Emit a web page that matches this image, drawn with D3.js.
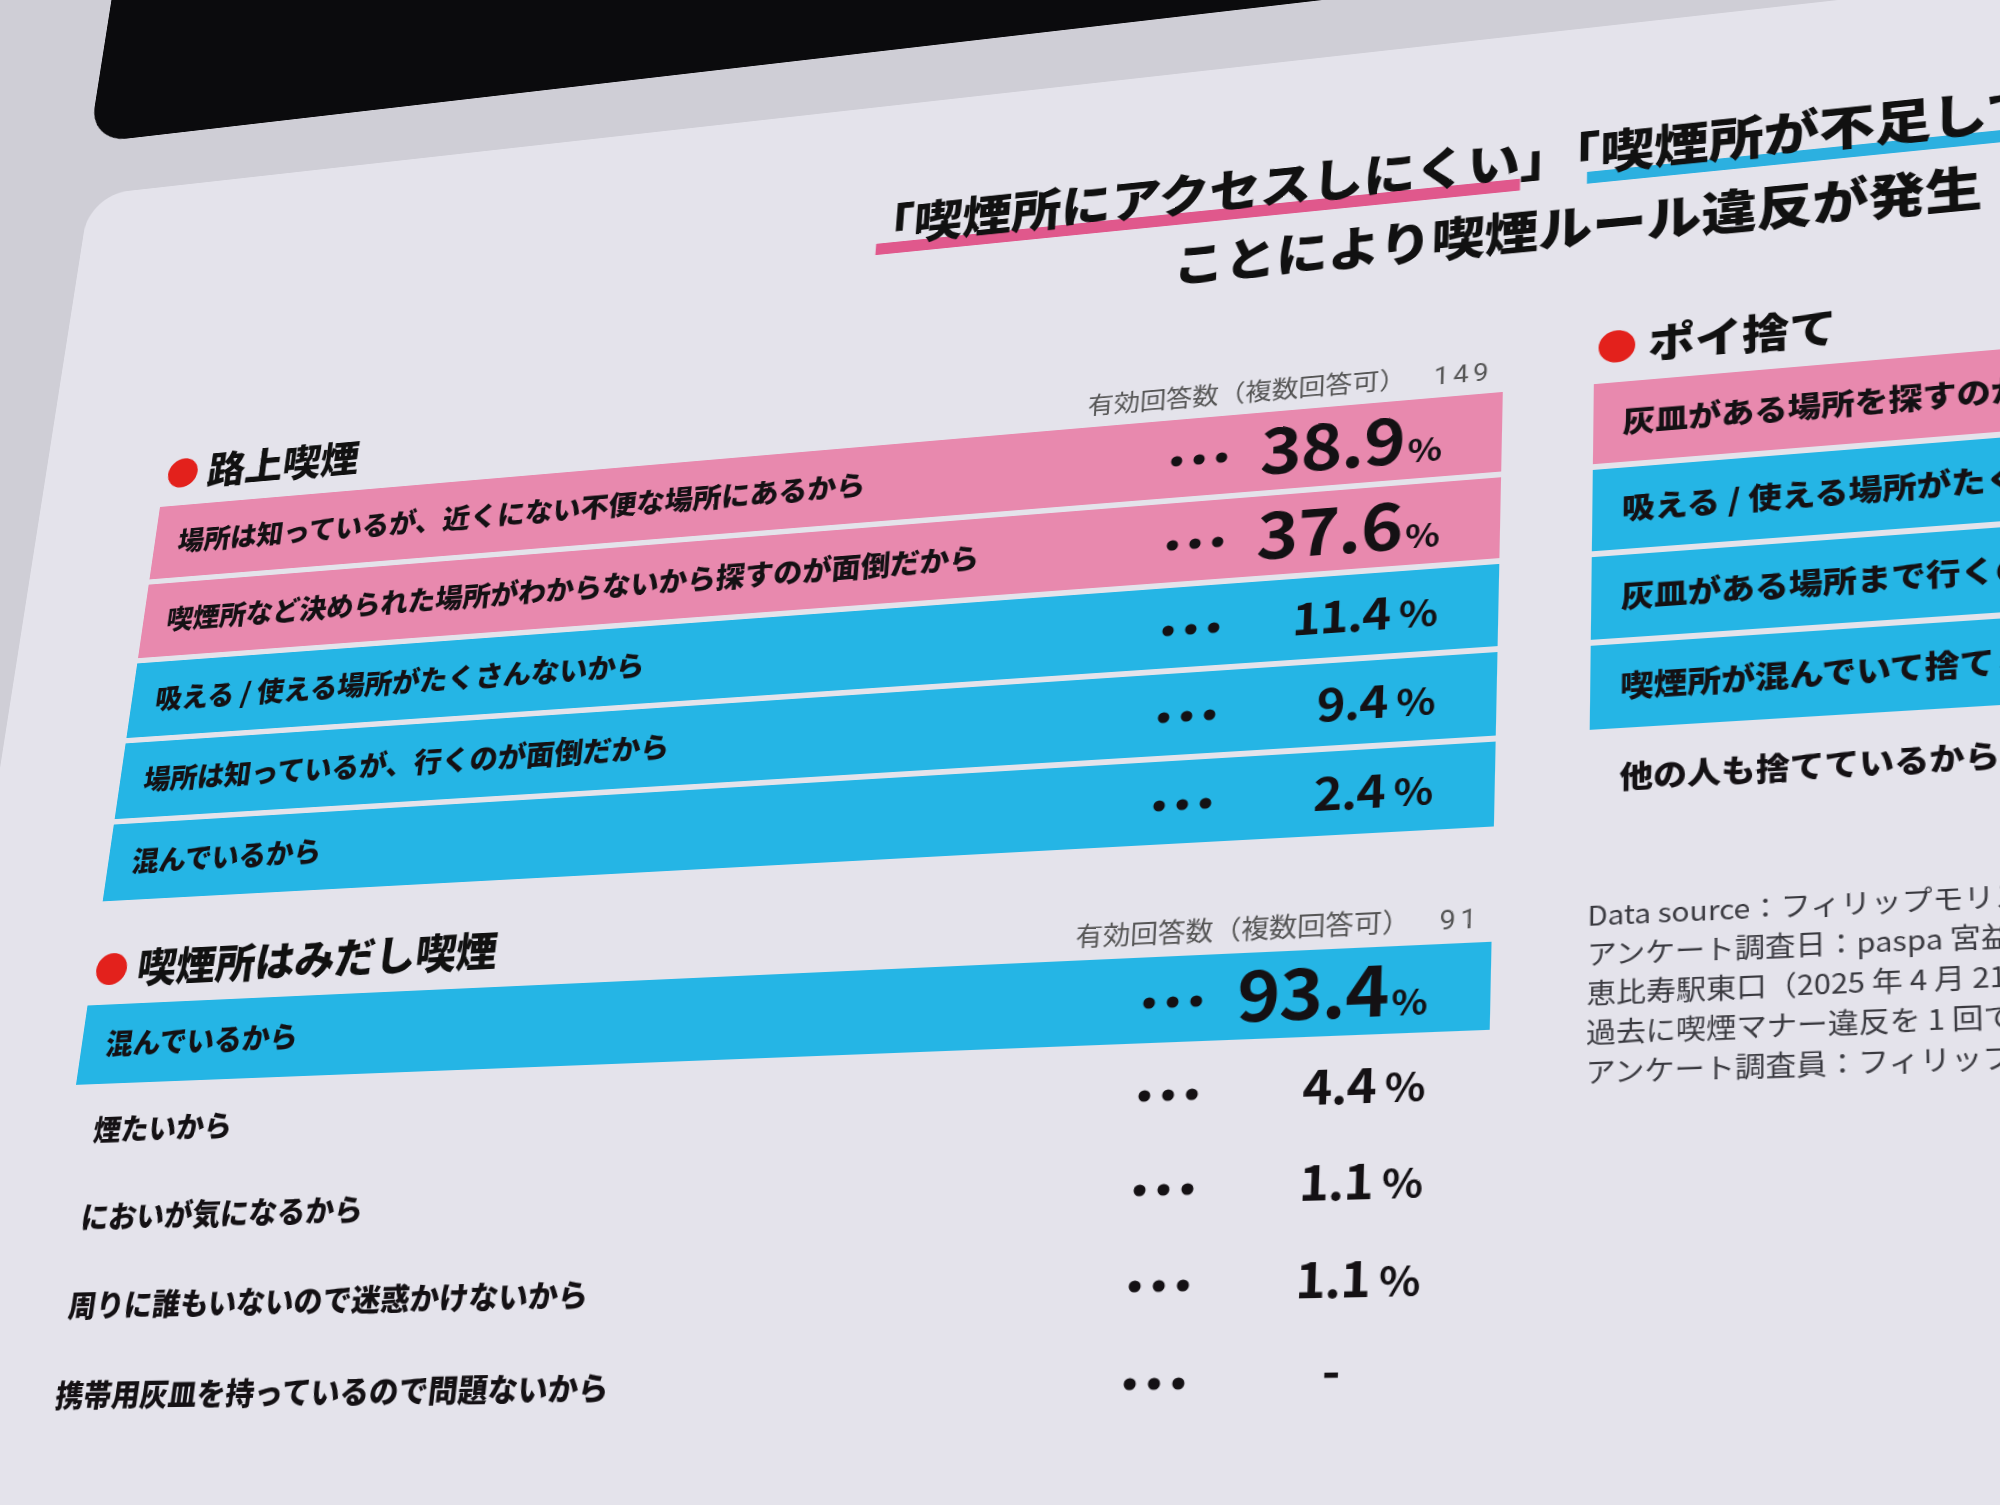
<!DOCTYPE html>
<html><head><meta charset="utf-8">
<script src="https://cdn.jsdelivr.net/npm/d3@7"></script>
<style>
html,body{margin:0;padding:0;background:#cfced6;overflow:hidden;width:2000px;height:1505px;}
#stage{position:absolute;left:0;top:0;transform-origin:0 0;}
text{font-family:"Noto Sans CJK JP","Noto Sans",sans-serif;}
</style></head><body>
<svg id="stage"></svg>
<script>
// ---------------- data ----------------
const titleLine1a = "「喫煙所にアクセスしにくい」";
const titleLine1b = "「喫煙所が不足している」";
const titleLine2 = "ことにより喫煙ルール違反が発生";

const streetTitle = "路上喫煙";
const streetLabels = [
  "場所は知っているが、近くにない不便な場所にあるから",
  "喫煙所など決められた場所がわからないから探すのが面倒だから",
  "吸える / 使える場所がたくさんないから",
  "場所は知っているが、行くのが面倒だから",
  "混んでいるから"
];
const streetValues = [38.9, 37.6, 11.4, 9.4, 2.4];
const streetTiers = ["pink", "pink", "blue", "blue", "blue"];
const streetN = 149;

const boothTitle = "喫煙所はみだし喫煙";
const boothLabels = [
  "混んでいるから",
  "煙たいから",
  "においが気になるから",
  "周りに誰もいないので迷惑かけないから",
  "携帯用灰皿を持っているので問題ないから"
];
const boothValues = [93.4, 4.4, 1.1, 1.1, null];
const boothTiers = ["blue", "none", "none", "none", "none"];
const boothN = 91;

const litterTitle = "ポイ捨て";
const litterLabels = [
  "灰皿がある場所を探すのが面倒だから",
  "吸える / 使える場所がたくさんないから",
  "灰皿がある場所まで行くのが面倒だから",
  "喫煙所が混んでいて捨てられないから",
  "他の人も捨てているから"
];
const litterTiers = ["pink", "blue", "blue", "blue", "none"];

const nLabel = "有効回答数（複数回答可）";
const sourceLines = [
  "Data source：フィリップモリス・ジャパン調べ",
  "アンケート調査日：paspa 宮益坂ビル前喫煙所、",
  "恵比寿駅東口（2025 年 4 月 21 日〜）",
  "過去に喫煙マナー違反を 1 回でもしたことがある喫煙者",
  "アンケート調査員：フィリップモリス・ジャパン"
];

// ---------------- layout (flat slide) ----------------
const COLW = 1400, PITCH = 90, GAP = 6, COL2 = 1485;
const OX = 400, OY = 1000, SW = 3500, SH = 2600;
const tierColor = {pink: "#e889ae", blue: "#25b5e5", none: "none"};

const svg = d3.select("#stage").attr("width", SW).attr("height", SH);
svg.append("rect").attr("width", SW).attr("height", SH).attr("fill", "#cfced6");
const root = svg.append("g").attr("transform", `translate(${OX},${OY})`);

// black header band and slide card
root.append("rect").attr("x", -152).attr("y", -1300).attr("width", 4000).attr("height", 842)
  .attr("rx", 46).attr("fill", "#0b0b0d");
root.append("rect").attr("x", -141).attr("y", -391).attr("width", 4000).attr("height", 2200)
  .attr("rx", 46).attr("fill", "#e4e3eb");

// title
const tg = root.append("g");
const t1 = tg.append("text").attr("x", 753).attr("y", -231)
  .attr("font-size", 51).attr("font-weight", 900).attr("fill", "#111");
t1.append("tspan").text(titleLine1a);
t1.append("tspan").text(titleLine1b);
tg.append("text").attr("x", 1075).attr("y", -152)
  .attr("font-size", 51).attr("font-weight", 900).attr("fill", "#111").text(titleLine2);
// highlighter underlines measured from the text itself
const node = t1.node();
const fs = 51;
const aStart = node.getStartPositionOfChar(0).x + fs * 0.25;
const aEnd = node.getEndPositionOfChar(titleLine1a.length - 2).x;
const bStart = node.getStartPositionOfChar(titleLine1a.length).x + fs * 0.25;
const bEnd = node.getEndPositionOfChar(titleLine1a.length + titleLine1b.length - 2).x;
tg.insert("rect", "text").attr("x", aStart).attr("y", -230).attr("width", aEnd - aStart).attr("height", 13).attr("fill", "#e0588c");
tg.insert("rect", "text").attr("x", bStart).attr("y", -230).attr("width", bEnd - bStart).attr("height", 13).attr("fill", "#2cb0e0");

const fmt = d3.format(".1f");

function heading(g, x, y, label) {
  g.append("circle").attr("cx", x + 21).attr("cy", y - 38).attr("r", 17).attr("fill", "#e3211c");
  g.append("text").attr("x", x + 50).attr("y", y - 22).attr("font-size", 43).attr("font-weight", 900)
    .attr("fill", "#111").text(label);
}

function section(x0, top, title, labels, values, tiers, n) {
  const g = root.append("g");
  heading(g, x0, top, title);
  if (n != null) {
    const t = g.append("text").attr("x", x0 + 1390).attr("y", top - 14).attr("text-anchor", "end")
      .attr("font-size", 26).attr("fill", "#555");
    t.append("tspan").text(nLabel);
    t.append("tspan").attr("dx", 26).attr("font-family", "Roboto, sans-serif").attr("letter-spacing", 4).text(n);
  }
  const y = d3.scaleBand().domain(d3.range(labels.length))
    .range([top, top + labels.length * PITCH - GAP]).paddingInner(GAP / PITCH).paddingOuter(0);
  const rows = g.selectAll("g.row").data(labels.map((l, i) => ({l, i, v: values ? values[i] : undefined, t: tiers[i]})))
    .join("g").attr("class", "row").attr("transform", d => `translate(${x0},${y(d.i)})`);
  rows.append("rect").attr("width", COLW).attr("height", y.bandwidth())
    .attr("fill", d => tierColor[d.t]);
  const cy = y.bandwidth() / 2;
  rows.append("text").attr("x", 27).attr("y", cy).attr("dy", "0.36em")
    .attr("font-size", 30).attr("font-weight", 900).attr("fill", "#141114").text(d => d.l);
  if (!values) return;
  rows.each(function(d) {
    const r = d3.select(this);
    r.selectAll("circle").data([1088, 1110, 1132]).join("circle")
      .attr("cx", c => c).attr("cy", cy + 3).attr("r", 5.5).attr("fill", "#141114");
    if (d.v == null) {
      r.append("text").attr("x", 1268).attr("y", cy + 10).attr("text-anchor", "middle")
        .attr("font-family", "Roboto, sans-serif").attr("font-weight", 700).attr("font-size", 44).attr("fill", "#141114").text("-");
      return;
    }
    const big = d.v >= 30;
    const t = r.append("text").attr("x", 1343).attr("y", cy + (big ? 25 : 17)).attr("text-anchor", "end")
      .attr("font-family", "Roboto, sans-serif").attr("font-weight", 700).attr("fill", "#141114")
      .attr("letter-spacing", big ? -1 : -1);
    t.append("tspan").attr("font-size", big ? 68 : 46).text(fmt(d.v));
    t.append("tspan").attr("font-size", big ? 34 : 38).attr("dx", big ? 3 : 8).text("%");
  });
}

section(0, 0, streetTitle, streetLabels, streetValues, streetTiers, streetN);
section(0, 556, boothTitle, boothLabels, boothValues, boothTiers, boothN);
section(COL2, 0, litterTitle, litterLabels, null, litterTiers, null);

root.append("g").selectAll("text").data(sourceLines).join("text")
  .attr("x", COL2).attr("y", (d, i) => 545 + i * 37)
  .attr("font-size", 26).attr("fill", "#3a3a40").text(d => d);

// ---------------- camera perspective (photo of a screen) ----------------
// flat slide rectangle (0,0)-(COLW,640) -> quad seen in the photograph
const quad = [[160, 507], [1503, 392], [1490, 1030], [76, 1085]];
function squareToQuad(p) {
  const [x0, y0] = p[0], [x1, y1] = p[1], [x2, y2] = p[2], [x3, y3] = p[3];
  const dx1 = x1 - x2, dx2 = x3 - x2, dx3 = x0 - x1 + x2 - x3;
  const dy1 = y1 - y2, dy2 = y3 - y2, dy3 = y0 - y1 + y2 - y3;
  const den = dx1 * dy2 - dx2 * dy1;
  const g = (dx3 * dy2 - dx2 * dy3) / den, h = (dx1 * dy3 - dx3 * dy1) / den;
  return {a: x1 - x0 + g * x1, b: x3 - x0 + h * x3, c: x0, d: y1 - y0 + g * y1, e: y3 - y0 + h * y3, f: y0, g, h};
}
const m = squareToQuad(quad);
const FW = COLW, FH = 640;
const A = m.a / FW, B = m.b / FH, C = m.c - m.a * OX / FW - m.b * OY / FH;
const D = m.d / FW, E = m.e / FH, F = m.f - m.d * OX / FW - m.e * OY / FH;
const G = m.g / FW, H = m.h / FH, I = 1 - m.g * OX / FW - m.h * OY / FH;
d3.select("#stage").style("transform",
  `matrix3d(${A},${D},0,${G},${B},${E},0,${H},0,0,1,0,${C},${F},0,${I})`);
</script>
</body></html>
